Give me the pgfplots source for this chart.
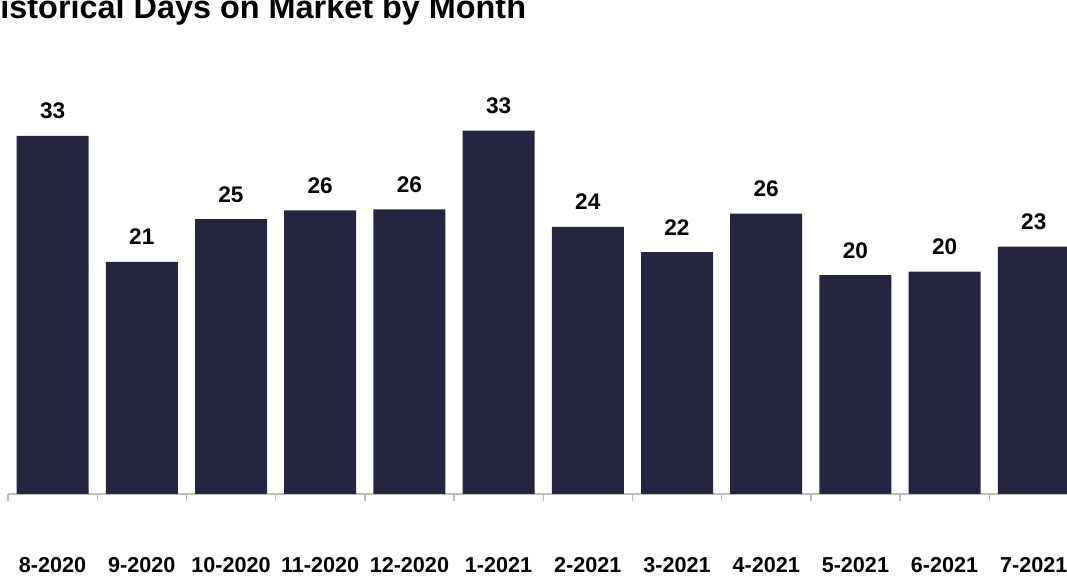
\documentclass[border=0pt]{standalone}
\usepackage{pgfplots}
\pgfplotsset{compat=1.18}
\usepackage{fontspec}
\setmainfont{Liberation Sans}
\definecolor{barnavy}{RGB}{37,37,66}
\definecolor{axisgray}{RGB}{190,190,190}

\begin{document}
\begin{tikzpicture}[x=1pt,y=1pt]
% canvas: 1px of the reference = 0.5pt
\path[use as bounding box] (0,0) rectangle (533.5,288.5);
\node[anchor=base west, inner sep=0, font=\bfseries\fontsize{16.2}{18}\selectfont]
  at (0,279.25) {\llap{H}istorical Days on Market by Month};
\begin{axis}[
    at={(4pt,41.5pt)}, anchor=south west,
    scale only axis, width=535.2pt, height=191.6pt,
    xmin=-0.5, xmax=11.5, ymin=0, ymax=35,
    ybar, bar width=36pt,
    axis x line=bottom, axis y line=none,
    x axis line style={-, draw=axisgray, line width=0.7pt},
    xtick={0,...,11},
    xticklabels={8-2020,9-2020,10-2020,11-2020,12-2020,1-2021,2-2021,3-2021,4-2021,5-2021,6-2021,7-2021},
    minor xtick={-0.5,0.5,...,11.5},
    major tick length=0pt, minor tick length=3.5pt,
    tick align=outside,
    minor tick style={draw=axisgray, line width=0.7pt},
    xticklabel style={anchor=base, yshift=-39.5pt, font=\bfseries\fontsize{10.8}{12}\selectfont},
    /pgf/number format/assume math mode=true,
    nodes near coords={\pgfmathprintnumber[fixed,precision=0]{\pgfplotspointmeta}},
    nodes near coords style={anchor=base, yshift=8.5pt, font=\bfseries\fontsize{11.3}{13}\selectfont, text=black},
  ]
\addplot[fill=barnavy, draw=none] coordinates {
  (0,32.7) (1,21.2) (2,25.1) (3,25.9) (4,26.0) (5,33.2)
  (6,24.4) (7,22.1) (8,25.6) (9,20.0) (10,20.3) (11,22.6)};
\end{axis}
\end{tikzpicture}
\end{document}
